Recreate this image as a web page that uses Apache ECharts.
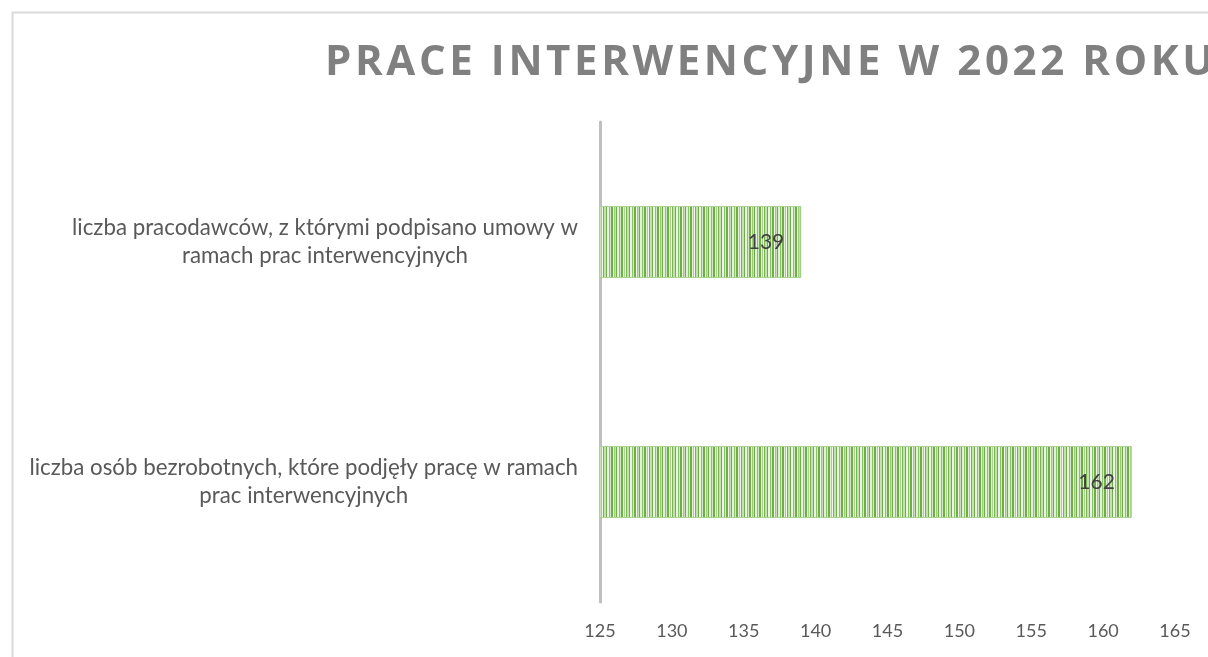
<!DOCTYPE html>
<html>
<head>
<meta charset="utf-8">
<script src="https://cdn.jsdelivr.net/npm/echarts@6/dist/echarts.min.js"></script>
<style>
html,body{margin:0;padding:0;background:#fff;}
#wrap{position:relative;width:1208px;height:657px;overflow:hidden;}
#c{position:absolute;left:0;top:0;width:1208px;height:657px;}
#t{position:absolute;left:0;top:0;width:1208px;height:110px;}
</style>
</head>
<body>
<div id="wrap"><div id="c"></div><div id="t"></div></div>
<script>
const titleText = 'PRACE INTERWENCYJNE W 2022 ROKU';
const categories = [
  'liczba pracodawców, z którymi podpisano umowy w\nramach prac interwencyjnych',
  'liczba osób bezrobotnych, które podjęły pracę w ramach\nprac interwencyjnych'
];
const values = [139, 162];
const axisMin = 125;
const axisMax = 165;
const axisStep = 5;

// striped fill pattern
function makePattern() {
  const stripes = [
    ['#70ad47',2],['#e2f0d9',1],['#a9d18e',1],['#f0f7ea',1],['#78b550',1],['#c5e0b4',2],
    ['#70ad47',1],['#e9f4e2',2],['#8cc36a',1],['#d3e8c6',1],['#70ad47',2],['#f0f7ea',1],
    ['#9bcb7b',1],['#c5e0b4',1],['#70ad47',1],['#e2f0d9',2],['#8cc36a',1],['#d3e8c6',1]
  ];
  const w = stripes.reduce((s, x) => s + x[1], 0);
  const cv = document.createElement('canvas');
  cv.width = w; cv.height = 8;
  const ctx = cv.getContext('2d');
  let x = 0;
  for (const [col, sw] of stripes) { ctx.fillStyle = col; ctx.fillRect(x, 0, sw, 8); x += sw; }
  return cv;
}

// letter spacing for the title layer only
(function () {
  const proto = CanvasRenderingContext2D.prototype;
  const orig = proto.fillText;
  proto.fillText = function () {
    const cv = this.canvas;
    if (cv && cv.closest && cv.closest('#t')) { try { this.letterSpacing = '3.6px'; } catch (e) {} }
    return orig.apply(this, arguments);
  };
})();

const chart = echarts.init(document.getElementById('c'), null, {renderer: 'canvas'});
const labelFont = 'Lato';
chart.setOption({
  animation: false,
  backgroundColor: '#fff',
  graphic: [{
    type: 'rect', left: 10, top: 10, silent: true,
    shape: {width: 1400, height: 800},
    style: {fill: 'none', stroke: '#d9d9d9', lineWidth: 2}
  }],
  grid: {left: 600, right: 33, top: 122, bottom: 55, containLabel: false},
  xAxis: {
    type: 'value', min: axisMin, max: axisMax, interval: axisStep,
    axisLine: {show: false}, axisTick: {show: false}, splitLine: {show: false},
    axisLabel: {color: '#595959', fontSize: 18, fontFamily: labelFont, margin: 20}
  },
  yAxis: {
    type: 'category', inverse: true, data: categories,
    axisLine: {show: true, lineStyle: {color: '#bfbfbf', width: 3}},
    axisTick: {show: false},
    axisLabel: {
      margin: 22, align: 'right',
      formatter: function (v) {
        return v.split('\n').map(l => '{c|' + l + '}').join('\n');
      },
      rich: {c: {align: 'center', color: '#595959', fontSize: 22.3, fontFamily: labelFont, lineHeight: 28}}
    }
  },
  series: [{
    type: 'bar', data: values, barWidth: 72,
    itemStyle: {color: {image: makePattern(), repeat: 'repeat'}, borderColor: '#a9d18e', borderWidth: 1},
    label: {show: true, position: 'insideRight', distance: 17, color: '#404040', fontSize: 21, fontFamily: labelFont}
  }]
});

// title rendered in its own transparent ECharts layer with letter spacing
const tchart = echarts.init(document.getElementById('t'), null, {renderer: 'canvas'});
tchart.setOption({
  animation: false,
  title: {
    text: titleText,
    left: 320, top: 37,
    textStyle: {fontFamily: 'Open Sans', fontWeight: 'bold', fontSize: 42, color: '#808080'}
  }
});
</script>
</body>
</html>
